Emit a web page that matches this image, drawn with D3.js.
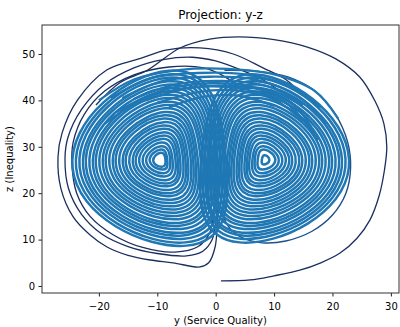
<!DOCTYPE html>
<html>
<head>
<meta charset="utf-8">
<script src="https://cdn.jsdelivr.net/npm/d3@7"></script>
<style>
  body { margin: 0; background: #fff; }
  svg { display: block; font-family: "DejaVu Sans", sans-serif; }
</style>
</head>
<body>
<div id="chart"></div>
<script>
// axis ticks
const xTicks = [-20, -10, 0, 10, 20, 30];
const zTicks = [0, 10, 20, 30, 40, 50];

// loops round the left focus, [y, z] for left, top, right, bottom of each loop
const leftLoops = [
  [[-10.7, 27.0], [-9.4, 28.7], [-8.6, 27.2], [-9.2, 25.7]],
  [[-11.3, 27.0], [-9.4, 29.4], [-8.3, 27.3], [-9.0, 25.1]],
  [[-11.9, 26.9], [-9.3, 30.1], [-7.8, 27.3], [-8.9, 24.3]],
  [[-12.5, 26.8], [-9.3, 30.9], [-7.4, 27.3], [-8.7, 23.6]],
  [[-13.1, 26.8], [-9.2, 31.7], [-6.9, 27.4], [-8.5, 22.8]],
  [[-13.7, 26.7], [-9.1, 32.4], [-6.5, 27.4], [-8.3, 22.1]],
  [[-14.2, 26.6], [-9.1, 33.1], [-6.1, 27.5], [-8.2, 21.5]],
  [[-14.8, 26.6], [-9.0, 33.9], [-5.6, 27.5], [-8.0, 20.7]],
  [[-15.4, 26.5], [-9.0, 34.6], [-5.2, 27.5], [-7.8, 20.0]],
  [[-15.9, 26.4], [-8.9, 35.3], [-4.8, 27.6], [-7.6, 19.4]],
  [[-16.5, 26.4], [-8.9, 36.1], [-4.3, 27.6], [-7.5, 18.6]],
  [[-17.1, 26.3], [-8.8, 36.8], [-3.9, 27.6], [-7.3, 17.9]],
  [[-17.6, 26.2], [-8.7, 37.5], [-3.5, 27.7], [-7.1, 17.2]],
  [[-18.2, 26.2], [-8.7, 38.3], [-3.1, 27.7], [-6.9, 16.5]],
  [[-18.8, 26.1], [-8.6, 39.0], [-2.6, 27.7], [-6.8, 15.8]],
  [[-19.3, 26.0], [-8.6, 39.7], [-2.2, 27.8], [-6.6, 15.1]],
  [[-19.9, 26.0], [-8.5, 40.5], [-1.8, 27.8], [-6.4, 14.4]],
  [[-20.5, 25.9], [-8.5, 41.2], [-1.3, 27.8], [-6.3, 13.6]],
  [[-21.0, 25.8], [-8.4, 41.9], [-0.9, 27.9], [-6.1, 13.0]],
  [[-21.6, 25.8], [-8.3, 42.7], [-0.5, 27.9], [-5.9, 12.3]],
  [[-22.2, 25.7], [-8.3, 43.4], [0.0, 27.9], [-5.7, 11.5]],
  [[-22.7, 25.6], [-8.2, 44.1], [0.3, 28.0], [-5.6, 10.9]],
  [[-23.3, 25.6], [-8.2, 44.9], [0.8, 28.0], [-5.4, 10.2]],
  [[-23.9, 25.5], [-8.1, 45.6], [1.3, 28.1], [-5.2, 9.4]],
  [[-24.5, 25.4], [-8.0, 46.4], [1.7, 28.1], [-5.0, 8.7]]
];

// loops round the right focus, same order
const rightLoops = [
  [[7.9, 27.2], [8.4, 28.2], [9.2, 27.1], [8.2, 26.2]],
  [[7.2, 27.3], [8.3, 29.4], [10.2, 27.0], [7.9, 25.1]],
  [[6.7, 27.3], [8.2, 30.1], [10.8, 26.9], [7.8, 24.3]],
  [[6.3, 27.3], [8.2, 30.9], [11.4, 26.8], [7.6, 23.6]],
  [[5.8, 27.4], [8.1, 31.7], [12.0, 26.8], [7.4, 22.8]],
  [[5.4, 27.4], [8.0, 32.4], [12.6, 26.7], [7.2, 22.1]],
  [[5.0, 27.5], [8.0, 33.1], [13.1, 26.6], [7.1, 21.5]],
  [[4.5, 27.5], [7.9, 33.9], [13.7, 26.6], [6.9, 20.7]],
  [[4.1, 27.5], [7.9, 34.6], [14.3, 26.5], [6.7, 20.0]],
  [[3.7, 27.6], [7.8, 35.3], [14.8, 26.4], [6.5, 19.4]],
  [[3.2, 27.6], [7.8, 36.1], [15.4, 26.4], [6.4, 18.6]],
  [[2.8, 27.6], [7.7, 36.8], [16.0, 26.3], [6.2, 17.9]],
  [[2.4, 27.7], [7.6, 37.5], [16.5, 26.2], [6.0, 17.2]],
  [[2.0, 27.7], [7.6, 38.3], [17.1, 26.2], [5.8, 16.5]],
  [[1.5, 27.7], [7.5, 39.0], [17.7, 26.1], [5.7, 15.8]],
  [[1.1, 27.8], [7.5, 39.7], [18.2, 26.0], [5.5, 15.1]],
  [[0.7, 27.8], [7.4, 40.5], [18.8, 26.0], [5.3, 14.4]],
  [[0.2, 27.8], [7.4, 41.2], [19.4, 25.9], [5.2, 13.6]],
  [[-0.2, 27.9], [7.3, 41.9], [19.9, 25.8], [5.0, 13.0]],
  [[-0.6, 27.9], [7.2, 42.7], [20.5, 25.8], [4.8, 12.3]],
  [[-1.1, 27.9], [7.2, 43.4], [21.1, 25.7], [4.6, 11.5]],
  [[-1.4, 28.0], [7.1, 44.1], [21.6, 25.6], [4.5, 10.9]],
  [[-1.9, 28.0], [7.1, 44.9], [22.2, 25.6], [4.3, 10.2]],
  [[-2.4, 28.1], [7.0, 45.6], [22.8, 25.5], [4.1, 9.4]]
];

// passes over the top from one wing to the other
const crossings = [
  [[-20, 40], [-14, 44.5], [-6, 46.6], [2, 46.8], [10, 45.6], [17, 42], [21, 36]],
  [[-18, 40.5], [-11, 44.8], [-3, 45.9], [5, 45.6], [12, 43.4], [18, 38.5]],
  [[-16, 40.5], [-9, 44.2], [-1, 45.1], [7, 44.4], [14, 41], [19, 35]],
  [[-14, 40.3], [-7, 43.4], [1, 44.2], [9, 43], [15, 39]],
  [[-12, 40], [-5, 42.6], [2, 43.2], [10, 41.5], [16, 36.5]],
  [[-17, 37.5], [-9, 42.2], [-1, 43.7], [6, 43], [13, 39.5], [17, 33]],
  [[-10, 39.5], [-3, 41.8], [3, 42.2], [10, 40.2], [15, 35.5]],
  [[-19, 35], [-12, 40.5], [-4, 42.8], [4, 42.6], [12, 39.5], [17.5, 31.5]],
  [[-8, 38.5], [-2, 40.8], [4, 41], [10, 38.8]]
];

// single strands outside the dense part (start of the trajectory and outer loops)
const startStrand = [
  [0.9, 1.1], [5.9, 1.3], [10, 2.2], [14.4, 3.4], [18, 5], [21.3, 7.1], [24.2, 10.3],
  [26.4, 14.2], [28, 19.5], [28.9, 25], [29.3, 30], [28.8, 35], [27.3, 39.8], [24.7, 45],
  [20.5, 49], [15.7, 51.5], [10, 53.1], [4, 53.7], [-1, 53.2], [-6.1, 51.3], [-11.7, 46.5],
  [-16.4, 43.8], [-20.5, 39]
];
const outerLeftA = [
  [15, 41], [12, 44.5], [8.1, 47], [3, 50], [-2.7, 51.3], [-8.3, 50.9], [-13, 49], [-18.6, 46.6],
  [-23.7, 40], [-26.3, 33], [-27, 27.8], [-26.5, 21], [-24.4, 14.9], [-21.5, 11], [-18.6, 8.4],
  [-15, 6.6], [-11.2, 5.6], [-7.3, 5], [-2.7, 4.1], [-1.2, 5], [-0.1, 8.4], [0.3, 14.2], [0.5, 21]
];
const outerLeftB = [
  [11, 42], [8, 44.5], [5, 46.2], [0, 48.5], [-4, 49.3], [-9, 48.8], [-14, 47], [-19, 43.5],
  [-23, 38], [-25.3, 32], [-25.8, 27.5], [-25.2, 21], [-23, 15.5], [-19.5, 11.2], [-15, 8.5],
  [-10, 7], [-5, 6.5], [-2.2, 7.5], [-0.6, 10], [0, 14], [0.4, 21]
];
const outerLeftC = [
  [4, 43], [1, 45.5], [-2, 47], [-8, 47.2], [-14, 45.5], [-19, 42], [-22.5, 37], [-24.4, 31],
  [-24.6, 26], [-23.8, 20], [-21.5, 15], [-17.5, 11], [-12.5, 8.3], [-7, 7.3], [-3, 8.5],
  [-1, 11.5], [-0.2, 17], [0.2, 22]
];
const outerRight = [
  [1.5, 46.5], [7, 46.3], [12.5, 45], [17, 42], [20.5, 37], [22.6, 31], [23.1, 25.5],
  [22.3, 20], [20, 15.3], [16.5, 11.8], [12, 9.7], [8, 9.3], [4.5, 10.4], [2.2, 12.8], [0.9, 16.5]
];

const width = 400, height = 327;
const margin = {top: 25, right: 1, bottom: 34, left: 42};

const x = d3.scaleLinear().domain([-29.74, 31.39]).range([margin.left, width - margin.right]);
const z = d3.scaleLinear().domain([-1.51, 56.25]).range([height - margin.bottom, margin.top]);

const svg = d3.select('#chart').append('svg')
  .attr('width', width)
  .attr('height', height);

svg.append('clipPath').attr('id', 'plot')
  .append('rect')
  .attr('x', margin.left).attr('y', margin.top)
  .attr('width', width - margin.left - margin.right)
  .attr('height', height - margin.top - margin.bottom);

const plot = svg.append('g').attr('clip-path', 'url(#plot)');

const loopLine = d3.line()
  .x(d => x(d[0]))
  .y(d => z(d[1]))
  .curve(d3.curveCardinalClosed.tension(-0.65));

const strandLine = d3.line()
  .x(d => x(d[0]))
  .y(d => z(d[1]))
  .curve(d3.curveCatmullRom);

const blue = '#1f77b4';
const dark = '#1b2f5e';

// the lone strands go underneath, so their ends disappear into the dense part
plot.append('path').datum(outerRight)
  .attr('d', strandLine)
  .attr('fill', 'none')
  .attr('stroke', '#1d4f8a')
  .attr('stroke-width', 1.4);

[outerLeftC, outerLeftB, outerLeftA, startStrand].forEach(s => {
  plot.append('path').datum(s)
    .attr('d', strandLine)
    .attr('fill', 'none')
    .attr('stroke', dark)
    .attr('stroke-width', 1.3);
});

plot.selectAll('path.right').data(rightLoops).join('path')
  .attr('class', 'right')
  .attr('d', loopLine)
  .attr('fill', 'none')
  .attr('stroke', blue)
  .attr('stroke-width', 2.5);

plot.selectAll('path.left').data(leftLoops).join('path')
  .attr('class', 'left')
  .attr('d', loopLine)
  .attr('fill', 'none')
  .attr('stroke', blue)
  .attr('stroke-width', 2.5);

plot.selectAll('path.cross').data(crossings).join('path')
  .attr('class', 'cross')
  .attr('d', strandLine)
  .attr('fill', 'none')
  .attr('stroke', blue)
  .attr('stroke-width', 2.3);

// axes
const xAxis = svg.append('g')
  .attr('transform', `translate(0,${height - margin.bottom})`)
  .call(d3.axisBottom(x).tickValues(xTicks).tickSize(3.5).tickPadding(6));
const zAxis = svg.append('g')
  .attr('transform', `translate(${margin.left},0)`)
  .call(d3.axisLeft(z).tickValues(zTicks).tickSize(3.5).tickPadding(3.5));

[xAxis, zAxis].forEach(g => {
  g.select('.domain').remove();
  g.selectAll('line').attr('stroke', '#222');
  g.selectAll('text')
    .attr('fill', '#000')
    .style('font-size', '10px')
    .style('font-family', '"DejaVu Sans", sans-serif');
});

// frame
svg.append('rect')
  .attr('x', margin.left).attr('y', margin.top)
  .attr('width', width - margin.left - margin.right)
  .attr('height', height - margin.top - margin.bottom)
  .attr('fill', 'none')
  .attr('stroke', '#333')
  .attr('stroke-width', 1);

svg.append('text')
  .attr('x', 220.5).attr('y', 19)
  .attr('text-anchor', 'middle')
  .style('font-size', '12px')
  .attr('fill', '#000')
  .text('Projection: y-z');

svg.append('text')
  .attr('x', 220.5).attr('y', 324)
  .attr('text-anchor', 'middle')
  .style('font-size', '10px')
  .attr('fill', '#000')
  .text('y (Service Quality)');

svg.append('text')
  .attr('transform', 'translate(13,159) rotate(-90)')
  .attr('text-anchor', 'middle')
  .style('font-size', '10px')
  .attr('fill', '#000')
  .text('z (Inequality)');
</script>
</body>
</html>
